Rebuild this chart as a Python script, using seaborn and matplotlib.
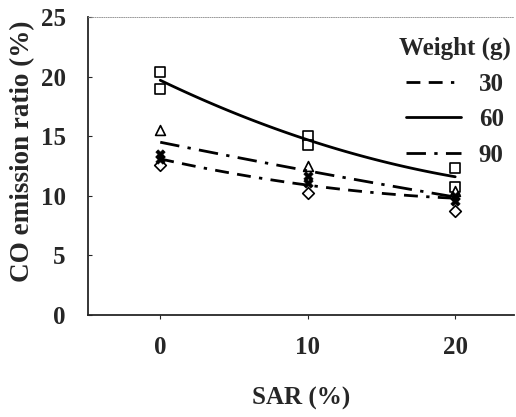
import matplotlib
matplotlib.use("Agg")
import matplotlib.pyplot as plt
from matplotlib.lines import Line2D
import seaborn as sns
import numpy as np

# SAR levels (%)
sar = [0, 10, 20]

# measured points (two replicates shown per level)
sq_60_a = [20.4, 15.0, 12.3]
sq_60_b = [19.0, 14.3, 10.7]
tri_90 = [15.5, 12.5, 10.4]
star_90 = [13.5, 11.7, 10.0]
star_30 = [13.1, 11.1, 9.6]
dia_30 = [12.6, 10.2, 8.7]

# trend lines
fit_30 = [13.1, 10.9, 9.8]
fit_60 = [19.7, 14.7, 11.6]
fit_90 = [14.5, 12.1, 9.9]

weights = ["30", "60", "90"]

sns.set_style("ticks")
plt.rcParams['font.family'] = ['Liberation Serif', 'DejaVu Serif']
plt.rcParams['font.weight'] = 'bold'

fig = plt.figure(figsize=(5.16, 4.17), dpi=100)
ax = fig.add_axes([0.1705, 0.2446, 0.826, 0.7144])

# markers
mk = dict(facecolor='white', edgecolor='black', linewidth=1.2, zorder=3)
sns.scatterplot(x=sar + sar, y=sq_60_a + sq_60_b, marker='s', s=55, ax=ax, **mk)
sns.scatterplot(x=sar, y=tri_90, marker='^', s=50, ax=ax, **mk)
sns.scatterplot(x=sar, y=dia_30, marker='D', s=35, ax=ax, **mk)
sns.scatterplot(x=sar + sar, y=star_90 + star_30, marker='X', s=45,
                color='black', edgecolor='black', linewidth=0.5, zorder=3, ax=ax)

# trend curves (quadratic through the line values)
styles = {
    "30": dict(dashes=(5, 3, 5, 3, 1.2, 3)),
    "60": dict(ls='-'),
    "90": dict(dashes=(7, 3, 1.2, 3)),
}
handles = []
for w, fit in zip(weights, [fit_30, fit_60, fit_90]):
    kw = dict(color='black', lw=2, zorder=4)
    kw.update(styles[w])
    sns.regplot(x=np.array(sar, dtype=float), y=np.array(fit), order=2,
                ci=None, scatter=False, line_kws=kw, ax=ax)
    handles.append(Line2D([], [], label=w, **kw))

ax.set_xlim(-4.9, 24.0)
ax.set_ylim(0, 25)
ax.set_xticks(sar)
ax.set_yticks([0, 5, 10, 15, 20, 25])
ax.tick_params(axis='y', direction='in', length=3, labelsize=18, pad=16)
ax.tick_params(axis='x', direction='out', length=3, labelsize=18, pad=12)
for lab in ax.get_xticklabels() + ax.get_yticklabels():
    lab.set_fontweight('bold')

ax.set_xlabel('SAR (%)', fontsize=18, fontweight='bold', labelpad=20)
ax.set_ylabel('CO emission ratio (%)', fontsize=19.5, fontweight='bold')
ax.yaxis.set_label_coords(-0.125, 0.55)

for s in ['left', 'bottom']:
    ax.spines[s].set_linewidth(1.3)
ax.spines['top'].set_linestyle(':')
ax.spines['top'].set_linewidth(0.6)
ax.spines['top'].set_color('#888888')
ax.spines['right'].set_visible(False)

leg = ax.legend(handles=handles, title='Weight (g)', loc='upper right',
                bbox_to_anchor=(1.045, 1.01), frameon=False, fontsize=18,
                title_fontsize=18, handlelength=2.2, labelspacing=0.5,
                handletextpad=0.7)
leg.get_title().set_fontweight('bold')
for t in leg.get_texts():
    t.set_fontweight('bold')

plt.savefig('out.png', dpi=100)
